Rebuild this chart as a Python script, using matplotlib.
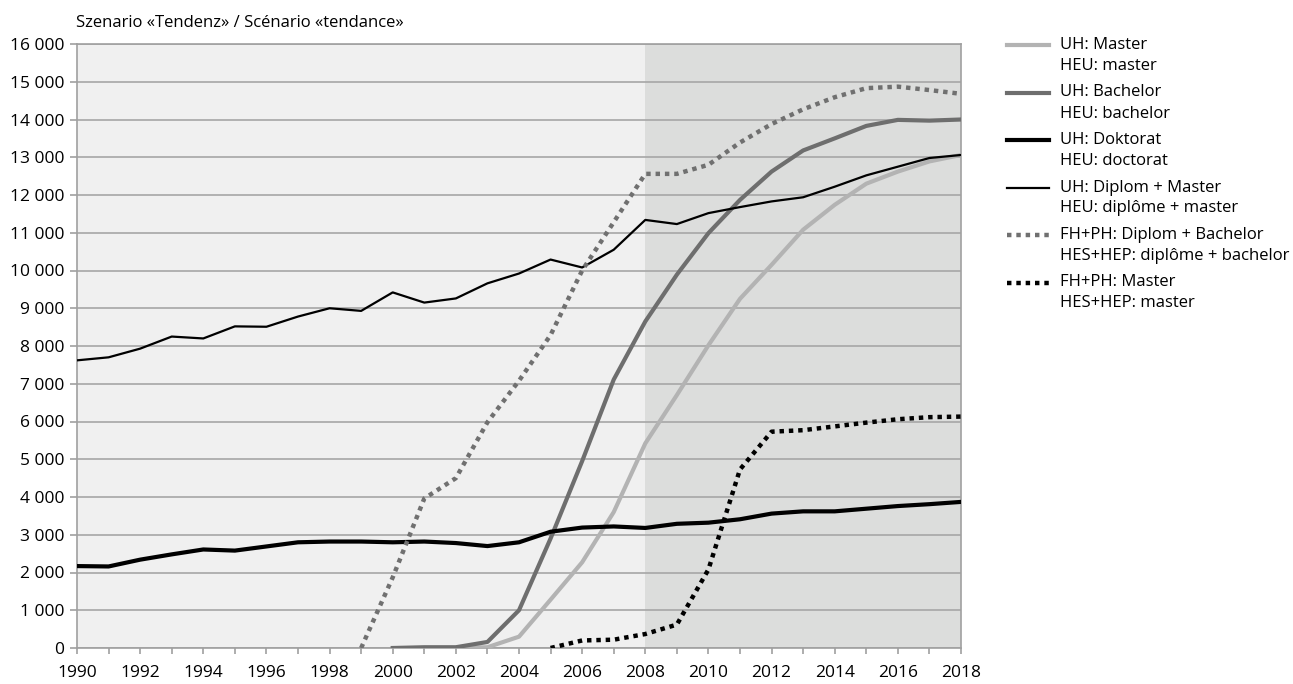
import numpy as np
import matplotlib.pyplot as plt
from matplotlib.lines import Line2D
from matplotlib.ticker import FuncFormatter, MultipleLocator

plt.rcParams['font.family'] = ['Open Sans', 'DejaVu Sans']

# ---- data ----
years_all = list(range(1990, 2019))

uh_diplom_master = [7620, 7700, 7930, 8250, 8200, 8520, 8510, 8780, 9000, 8930,
                    9420, 9150, 9260, 9660, 9920, 10290, 10080, 10550, 11340, 11230,
                    11520, 11680, 11830, 11940, 12220, 12520, 12750, 12980, 13060]
uh_doktorat = [2170, 2160, 2340, 2480, 2610, 2580, 2690, 2800, 2820, 2820,
               2800, 2820, 2780, 2700, 2800, 3080, 3190, 3220, 3180, 3290,
               3320, 3410, 3560, 3620, 3620, 3690, 3760, 3810, 3870]

years_bach = list(range(2000, 2019))
uh_bachelor = [0, 20, 20, 160, 1000, 2900, 4950, 7110, 8650, 9890,
               10990, 11870, 12620, 13180, 13500, 13830, 13990, 13970, 14000]

years_mast = list(range(2002, 2019))
uh_master = [0, 20, 300, 1280, 2270, 3600, 5420, 6700, 8020, 9250,
             10150, 11080, 11740, 12300, 12620, 12890, 13060]

years_fh = list(range(1999, 2019))
fh_diplom_bachelor = [0, 1870, 3960, 4500, 5980, 7080, 8290, 10000, 11280, 12560,
                      12560, 12800, 13390, 13880, 14270, 14590, 14830, 14870, 14780, 14680]

years_fhm = list(range(2005, 2019))
fh_master = [0, 200, 220, 370, 620, 2080, 4730, 5730, 5770, 5870, 5970, 6060, 6115, 6130]

legend_labels = [
    ("UH: Master", "HEU: master"),
    ("UH: Bachelor", "HEU: bachelor"),
    ("UH: Doktorat", "HEU: doctorat"),
    ("UH: Diplom + Master", "HEU: diplôme + master"),
    ("FH+PH: Diplom + Bachelor", "HES+HEP: diplôme + bachelor"),
    ("FH+PH: Master", "HES+HEP: master"),
]

W, H = 1293, 684
DOT = (0, (1, 1.1))

# ---- figure ----
fig = plt.figure(figsize=(W / 100, H / 100), dpi=100)
ax = fig.add_axes([77 / W, 1 - 648 / H, (961 - 77) / W, (648 - 44) / H])

ax.set_xlim(1990, 2018)
ax.set_ylim(0, 16000)
ax.set_facecolor('#f0f0f0')
ax.axvspan(2008, 2018, color='#dcdddc', zorder=0, lw=0)

ax.yaxis.set_major_locator(MultipleLocator(1000))
ax.grid(axis='y', color='#a6a6a6', linewidth=1.2, zorder=1)
ax.set_axisbelow(True)

styles = [
    dict(color='#b3b3b3', lw=3.0),
    dict(color='#6e6e6e', lw=3.0),
    dict(color='black', lw=3.0),
    dict(color='black', lw=1.6),
    dict(color='#707070', lw=3.2, linestyle=DOT, dash_capstyle='butt'),
    dict(color='black', lw=3.2, linestyle=DOT, dash_capstyle='butt'),
]
series = [(years_mast, uh_master), (years_bach, uh_bachelor), (years_all, uh_doktorat),
          (years_all, uh_diplom_master), (years_fh, fh_diplom_bachelor), (years_fhm, fh_master)]
for (xs, ys), st in zip(series, styles):
    ax.plot(xs, ys, zorder=3, **st)

for s in ax.spines.values():
    s.set_color('#a0a0a0')
    s.set_linewidth(1.2)

ax.set_xticks(range(1990, 2019, 2))
ax.set_xticks(range(1990, 2019), minor=True)
ax.tick_params(axis='x', which='both', color='#a0a0a0', length=4, width=1.2, labelsize=12.5, pad=8)
ax.tick_params(axis='y', color='#a0a0a0', length=5, width=1.2, labelsize=12.5, pad=4)
ax.yaxis.set_major_formatter(FuncFormatter(lambda v, p: f"{int(v):,}".replace(",", " ")))

fig.text(76 / W, 1 - 23 / H, "Szenario «Tendenz» / Scénario «tendance»",
         fontsize=12, va='center', ha='left')

# ---- legend: handle on the first text line of each entry ----
for i, ((l1, l2), st) in enumerate(zip(legend_labels, styles)):
    y1 = 45 + 47.5 * i
    fig.add_artist(Line2D([1007 / W, 1049 / W], [1 - y1 / H, 1 - y1 / H],
                          transform=fig.transFigure, **st))
    fig.text(1060 / W, 1 - y1 / H, l1, fontsize=12, va='center', ha='left')
    fig.text(1060 / W, 1 - (y1 + 21) / H, l2, fontsize=12, va='center', ha='left')

plt.savefig("out.png", dpi=100)
